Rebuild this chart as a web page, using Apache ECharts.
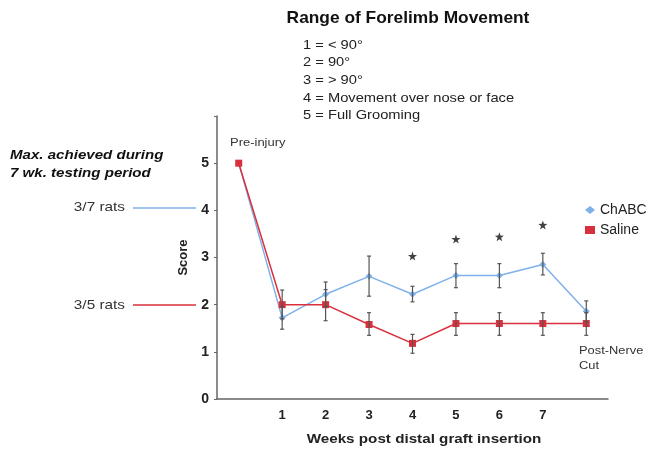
<!DOCTYPE html>
<html>
<head>
<meta charset="utf-8">
<script src="https://cdn.jsdelivr.net/npm/echarts@6/dist/echarts.min.js"></script>
<style>
  html, body { margin: 0; padding: 0; background: #fff; }
  #chart { width: 656px; height: 450px; }
</style>
</head>
<body>
<div id="chart"></div>
<script>
// categories: pre-injury, weeks 1-7, post nerve cut
var weeks = ['', '1', '2', '3', '4', '5', '6', '7', ''];
// mean scores
var chabc = [5, 1.72, 2.22, 2.6, 2.22, 2.62, 2.62, 2.85, 1.86];
var saline = [5, 2.0, 2.0, 1.58, 1.18, 1.6, 1.6, 1.6, 1.6];
// error bars [low, high]
var chabcErr = [null, [1.48, 1.96], [1.96, 2.48], [2.18, 3.03], [2.06, 2.39], [2.36, 2.87], [2.36, 2.87], [2.63, 3.09], [1.64, 2.08]];
var salineErr = [null, [1.7, 2.31], [1.66, 2.32], [1.35, 1.83], [0.97, 1.37], [1.35, 1.83], [1.35, 1.83], [1.35, 1.83], [1.35, 1.83]];
// significance stars
var starWeeks = [4, 5, 6, 7];
var starY = [3.03, 3.39, 3.44, 3.69];
var scaleLines = ['1 = < 90\u00b0', '2 = 90\u00b0', '3 = > 90\u00b0', '4 = Movement over nose or face', '5 = Full Grooming'];

var blue = '#7fb1ea';
var red = '#d8303c';
var FONT = 'Liberation Sans, Arial, sans-serif';

function errData(arr) {
  var out = [];
  arr.forEach(function (e, i) { if (e) out.push([i, e[0], e[1]]); });
  return out;
}

function renderErr(params, api) {
  var x = api.value(0);
  var lo = api.coord([x, api.value(1)]);
  var hi = api.coord([x, api.value(2)]);
  var cap = 2;
  var st = { stroke: '#555', lineWidth: 1.2 };
  return {
    type: 'group',
    children: [
      { type: 'line', shape: { x1: lo[0], y1: lo[1], x2: hi[0], y2: hi[1] }, style: st },
      { type: 'line', shape: { x1: lo[0] - cap, y1: lo[1], x2: lo[0] + cap, y2: lo[1] }, style: st },
      { type: 'line', shape: { x1: hi[0] - cap, y1: hi[1], x2: hi[0] + cap, y2: hi[1] }, style: st }
    ]
  };
}

// text helper, slightly stretched like the original slide
function txt(x, y, s, font, align, sx, extra) {
  var style = { text: s, font: font + ' ' + FONT, fill: '#222', align: align, verticalAlign: 'middle' };
  if (extra) for (var k in extra) style[k] = extra[k];
  return { type: 'text', x: x, y: y, scaleX: sx, style: style };
}

var starPath = 'path://M0,-10 L2.35,-3.24 L9.51,-3.09 L3.8,1.24 L5.88,8.09 L0,4 L-5.88,8.09 L-3.8,1.24 L-9.51,-3.09 L-2.35,-3.24 Z';

var chart = echarts.init(document.getElementById('chart'));
var scaleText = scaleLines.map(function (t, i) {
  return txt(303, 45 + i * 17.7, t, '13px', 'left', 1.13);
});

chart.setOption({
  animation: false,
  textStyle: { fontFamily: FONT },
  grid: { left: 217, right: 48, top: 116, bottom: 51 },
  legend: {
    orient: 'vertical', left: 580, top: 198, itemGap: 6,
    itemWidth: 10, itemHeight: 8,
    textStyle: { fontSize: 14, color: '#222' },
    data: [{ name: 'ChABC', icon: 'diamond' }, { name: 'Saline', icon: 'rect' }]
  },
  xAxis: {
    type: 'category', data: weeks, boundaryGap: true,
    axisLine: { lineStyle: { color: '#666', width: 1.5 } },
    axisTick: { length: 3, lineStyle: { color: '#666' } },
    axisLabel: { fontSize: 13, fontWeight: 'bold', color: '#222', margin: 10 }
  },
  yAxis: {
    type: 'value', min: 0, max: 6, interval: 1,
    name: 'Score', nameLocation: 'middle', nameGap: 25,
    nameTextStyle: { fontSize: 13, fontWeight: 'bold', color: '#222' },
    axisLine: { show: true, lineStyle: { color: '#666', width: 1.5 } },
    axisTick: { show: true, length: 3, lineStyle: { color: '#666' } },
    splitLine: { show: false },
    axisLabel: {
      fontSize: 14, fontWeight: 'bold', color: '#222', margin: 8,
      formatter: function (v) { return v === 6 ? '' : v; }
    }
  },
  graphic: scaleText.concat([
    txt(408, 18, 'Range of Forelimb Movement', 'bold 17px', 'center', 1.02, { fill: '#111' }),
    txt(10, 164, 'Max. achieved during\n7 wk. testing period', 'italic bold 13px', 'left', 1.16, { fill: '#111', lineHeight: 18 }),
    txt(125, 207, '3/7 rats', '13px', 'right', 1.18, { fill: '#333' }),
    { type: 'line', shape: { x1: 133, y1: 208, x2: 196, y2: 208 }, style: { stroke: blue, lineWidth: 1.5 } },
    txt(125, 305, '3/5 rats', '13px', 'right', 1.18, { fill: '#333' }),
    { type: 'line', shape: { x1: 133, y1: 305, x2: 196, y2: 305 }, style: { stroke: red, lineWidth: 1.5 } },
    txt(230, 143, 'Pre-injury', '11px', 'left', 1.18, { fill: '#333' }),
    txt(579, 358, 'Post-Nerve\nCut', '11px', 'left', 1.17, { fill: '#333', lineHeight: 15 }),
    txt(424, 439, 'Weeks post distal graft insertion', 'bold 13px', 'center', 1.17, { fill: '#222' })
  ]),
  series: [
    {
      name: 'ChABC', type: 'line', data: chabc,
      symbol: 'diamond', symbolSize: 7,
      itemStyle: { color: blue }, lineStyle: { color: blue, width: 1.5 }, z: 3
    },
    {
      name: 'Saline', type: 'line', data: saline,
      symbol: 'rect', symbolSize: 7,
      itemStyle: { color: red }, lineStyle: { color: red, width: 1.5 }, z: 4
    },
    { type: 'custom', renderItem: renderErr, data: errData(chabcErr), z: 5, silent: true },
    { type: 'custom', renderItem: renderErr, data: errData(salineErr), z: 5, silent: true },
    {
      type: 'scatter', symbol: starPath, symbolSize: 9,
      itemStyle: { color: '#111' },
      data: starWeeks.map(function (w, i) { return [w, starY[i]]; })
    }
  ]
});
</script>
</body>
</html>
